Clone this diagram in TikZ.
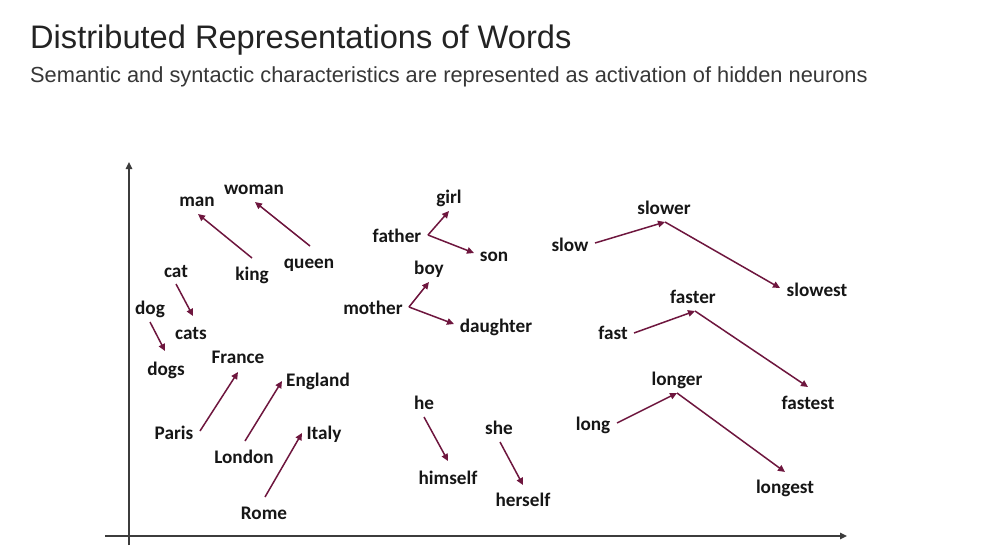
\documentclass[tikz,border=0pt]{standalone}
\usepackage{fontspec}
\setmainfont{Liberation Sans}
\newfontfamily\wordfont{Carlito}
\usetikzlibrary{arrows.meta}

\definecolor{arrowred}{RGB}{110,22,62}
\definecolor{wordink}{RGB}{22,22,22}
\definecolor{axisgray}{RGB}{60,60,60}
\definecolor{titleink}{RGB}{35,35,35}
\definecolor{subink}{RGB}{55,55,55}

\tikzset{
  word/.style={font=\wordfont\bfseries\fontsize{19.2}{21}\selectfont, text=wordink,
               inner sep=0pt, text height=15pt, text depth=2pt},
  shiftarrow/.style={draw=arrowred, line width=1.5pt,
               -{Triangle[length=7pt,width=6.5pt]}},
  axisline/.style={draw=axisgray, line width=1.4pt,
               -{Triangle[length=7pt,width=6.5pt]}},
}

\begin{document}
\begin{tikzpicture}[x=1pt,y=-1pt]
\useasboundingbox[fill=white] (0,0) rectangle (991,547);

% heading
\node[anchor=base west, inner sep=0pt, text=titleink,
      font=\fontsize{32.6}{36}\selectfont] (title) at (30,48)
  {Distributed Representations of Words};
\node[anchor=base west, inner sep=0pt, text=subink,
      font=\fontsize{21.8}{24}\selectfont] (subtitle) at (30,82)
  {Semantic and syntactic characteristics are represented as activation of hidden neurons};

% axes
\coordinate (ybot) at (129,545);
\coordinate (ytop) at (129,162);
\coordinate (xleft) at (105,536);
\coordinate (xright) at (847,536);
\draw[axisline] (ybot) -- (ytop);
\draw[axisline] (xleft) -- (xright);

% gender pairs
\node[word] (man) at (197,200) {man};
\node[word] (woman) at (254,188) {woman};
\node[word] (king) at (252,274) {king};
\node[word] (queen) at (309,262) {queen};
% plurals
\node[word] (cat) at (176,271) {cat};
\node[word] (dog) at (150,308) {dog};
\node[word] (cats) at (191,333) {cats};
\node[word] (dogs) at (166,369) {dogs};
% capitals
\node[word] (France) at (238,357) {France};
\node[word] (England) at (318,380) {England};
\node[word] (Paris) at (174,433) {Paris};
\node[word] (London) at (244,457) {London};
\node[word] (Italy) at (324,433) {Italy};
\node[word] (Rome) at (264,513) {Rome};
% family
\node[word] (girl) at (449,197) {girl};
\node[word] (father) at (397,236) {father};
\node[word] (son) at (494,255) {son};
\node[word] (boy) at (429,268) {boy};
\node[word] (mother) at (373,308) {mother};
\node[word] (daughter) at (496,326) {daughter};
% reflexives
\node[word] (he) at (424,403) {he};
\node[word] (himself) at (448,478) {himself};
\node[word] (she) at (499,428) {she};
\node[word] (herself) at (523,500) {herself};
% comparatives
\node[word] (slower) at (664,208) {slower};
\node[word] (slow) at (570,245) {slow};
\node[word] (slowest) at (817,290) {slowest};
\node[word] (faster) at (693,297) {faster};
\node[word] (fast) at (613,333) {fast};
\node[word] (fastest) at (808,403) {fastest};
\node[word] (longer) at (677,379) {longer};
\node[word] (long) at (593,424) {long};
\node[word] (longest) at (785,487) {longest};

% branch points
\coordinate (fatherfork) at ([shift={(31,-1)}]father.center);
\coordinate (motherfork) at ([shift={(36,-1)}]mother.center);
\coordinate (slowerpt) at ([shift={(1,14)}]slower.center);
\coordinate (fasterpt) at ([shift={(2,14)}]faster.center);
\coordinate (longerpt) at ([shift={(0,14)}]longer.center);

% offset vectors
\draw[shiftarrow] ([shift={(0,-16)}]king.center) -- ([shift={(1,14)}]man.center);
\draw[shiftarrow] ([shift={(1,-16)}]queen.center) -- ([shift={(1,14)}]woman.center);
\draw[shiftarrow] ([shift={(0,13)}]cat.center) -- ([shift={(2,-17)}]cats.center);
\draw[shiftarrow] ([shift={(0,14)}]dog.center) -- ([shift={(-1,-18)}]dogs.center);
\draw[shiftarrow] ([shift={(26,-2)}]Paris.center) -- ([shift={(0,15)}]France.center);
\draw[shiftarrow] ([shift={(1,-16)}]London.center) -- ([shift={(-36,1)}]England.center);
\draw[shiftarrow] ([shift={(1,-16)}]Rome.center) -- ([shift={(-22,0)}]Italy.center);

\draw[shiftarrow] (fatherfork) -- ([shift={(0,14)}]girl.center);
\draw[shiftarrow] (fatherfork) -- ([shift={(-20,-2)}]son.center);
\draw[shiftarrow] (motherfork) -- ([shift={(0,14)}]boy.center);
\draw[shiftarrow] (motherfork) -- ([shift={(-42,-2)}]daughter.center);

\draw[shiftarrow] ([shift={(0,14)}]he.center) -- ([shift={(0,-17)}]himself.center);
\draw[shiftarrow] ([shift={(1,14)}]she.center) -- ([shift={(0,-15)}]herself.center);

\draw[shiftarrow] ([shift={(25,-2)}]slow.center) -- (slowerpt);
\draw[shiftarrow] (slowerpt) -- ([shift={(-37,-2)}]slowest.center);
\draw[shiftarrow] ([shift={(21,0)}]fast.center) -- (fasterpt);
\draw[shiftarrow] (fasterpt) -- ([shift={(0,-16)}]fastest.center);
\draw[shiftarrow] ([shift={(24,-1)}]long.center) -- (longerpt);
\draw[shiftarrow] (longerpt) -- ([shift={(0,-15)}]longest.center);
\end{tikzpicture}
\end{document}
